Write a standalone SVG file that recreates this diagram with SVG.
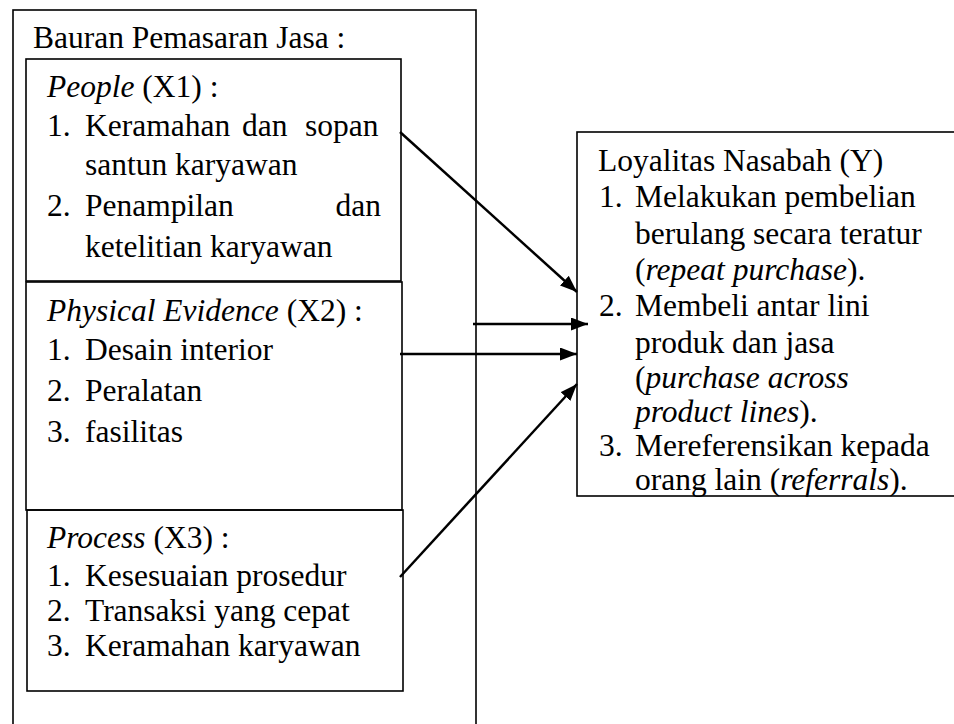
<svg xmlns="http://www.w3.org/2000/svg" width="954" height="724" viewBox="0 0 954 724">
<style>
text{font-family:"Liberation Serif","Times New Roman",serif;font-size:31.5px;fill:#000}
.i{font-style:italic}
.box{fill:none;stroke:#000;stroke-width:1.6}
.conn line{stroke:#000;stroke-width:2.5;fill:none}
</style>
<defs>
<marker id="ah" viewBox="0 0 17 13" refX="17" refY="6.5" markerWidth="17" markerHeight="13" markerUnits="userSpaceOnUse" orient="auto">
<path d="M0,0 L17,6.5 L0,13 z" fill="#000"/>
</marker>
</defs>
<rect width="954" height="724" fill="#fff"/>
<g id="outer">
<rect class="box" x="13" y="10" width="463" height="730" stroke-width="2.2"/>
<text x="33" y="48">Bauran Pemasaran Jasa :</text>
</g>
<g id="people">
<rect class="box" x="26" y="59" width="375" height="222" stroke-width="1.4"/>
<text x="47" y="97"><tspan class="i">People</tspan> (X1) :</text>
<text y="136"><tspan x="47">1.</tspan><tspan x="85">Keramahan</tspan><tspan x="242">dan</tspan><tspan x="305">sopan</tspan></text>
<text x="85" y="175">santun karyawan</text>
<text y="216"><tspan x="47">2.</tspan><tspan x="85">Penampilan</tspan><tspan x="381" text-anchor="end">dan</tspan></text>
<text x="85" y="257">ketelitian karyawan</text>
</g>
<g id="physical">
<rect class="box" x="26" y="282" width="376" height="228" stroke="#444" stroke-width="1.8"/>
<text x="47" y="321"><tspan class="i">Physical Evidence</tspan> (X2) :</text>
<text y="360"><tspan x="47">1.</tspan><tspan x="85">Desain interior</tspan></text>
<text y="401"><tspan x="47">2.</tspan><tspan x="85">Peralatan</tspan></text>
<text y="442"><tspan x="47">3.</tspan><tspan x="85">fasilitas</tspan></text>
</g>
<g id="process">
<rect class="box" x="27" y="510" width="376" height="181" stroke-width="1.6"/>
<text x="47" y="548"><tspan class="i">Process</tspan> (X3) :</text>
<text y="586"><tspan x="47">1.</tspan><tspan x="85">Kesesuaian prosedur</tspan></text>
<text y="621"><tspan x="47">2.</tspan><tspan x="85">Transaksi yang cepat</tspan></text>
<text y="656"><tspan x="47">3.</tspan><tspan x="85">Keramahan karyawan</tspan></text>
</g>
<g id="loyalitas">
<rect class="box" x="577" y="132" width="400" height="364" stroke-width="2.2"/>
<text x="598" y="171">Loyalitas Nasabah (Y)</text>
<text y="207"><tspan x="599">1.</tspan><tspan x="635">Melakukan pembelian</tspan></text>
<text x="635" y="244">berulang secara teratur</text>
<text x="635" y="280">(<tspan class="i">repeat purchase</tspan>).</text>
<text y="316"><tspan x="599">2.</tspan><tspan x="635">Membeli antar lini</tspan></text>
<text x="635" y="353">produk dan jasa</text>
<text x="635" y="388">(<tspan class="i">purchase across</tspan></text>
<text x="635" y="422"><tspan class="i">product lines</tspan>).</text>
<text y="456"><tspan x="599">3.</tspan><tspan x="635">Mereferensikan kepada</tspan></text>
<text x="635" y="490">orang lain (<tspan class="i">referrals</tspan>).</text>
</g>
<g id="connectors" class="conn">
<line x1="400" y1="132" x2="577" y2="292" marker-end="url(#ah)"/>
<line x1="473" y1="324" x2="588" y2="324" marker-end="url(#ah)"/>
<line x1="400" y1="354" x2="577" y2="354" marker-end="url(#ah)"/>
<line x1="400" y1="577" x2="577" y2="384" marker-end="url(#ah)"/>
</g>
</svg>
